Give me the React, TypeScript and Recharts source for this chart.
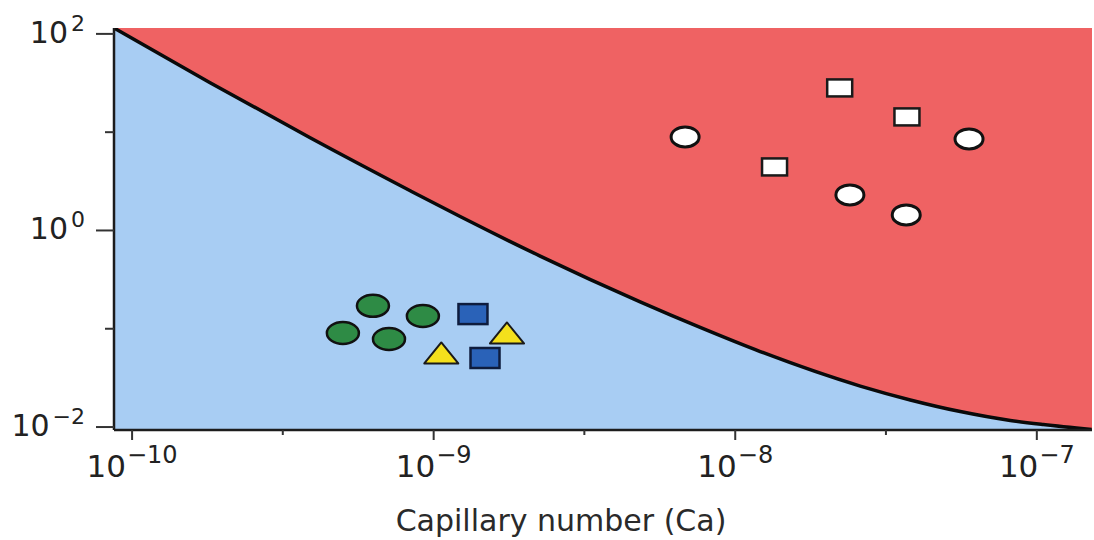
import React from 'react';
import { ComposedChart, Area, Scatter, XAxis, YAxis, CartesianGrid } from 'recharts';

// boundary between the two regimes: capillary number vs viscosity ratio
const curveCa = [8.71e-11, 1.814e-10, 3.894e-10, 8.36e-10, 1.224e-9, 2.255e-9, 4.839e-9, 7.65e-9, 1.21e-8, 2.598e-8, 3.806e-8, 5.574e-8, 8.17e-8, 1.051e-7, 1.52e-7];
const curveRatio = [114.8, 31.9, 8.77, 2.535, 1.385, 0.549, 0.1877, 0.1031, 0.0586, 0.0261, 0.01886, 0.01437, 0.01167, 0.0106, 0.00945];

// markers below the curve
const greenCa = [6.29e-10, 9.21e-10, 5.0e-10, 7.11e-10];
const greenRatio = [0.171, 0.135, 0.0906, 0.0787];
const blueCa = [1.35e-9, 1.48e-9];
const blueRatio = [0.141, 0.0504];
const yellowCa = [1.75e-9, 1.06e-9];
const yellowRatio = [0.0906, 0.0567];

// markers above the curve
const whiteSquareCa = [2.22e-8, 3.71e-8, 1.35e-8];
const whiteSquareRatio = [28.2, 14.3, 4.43];
const whiteCircleCa = [6.82e-9, 5.96e-8, 2.4e-8, 3.69e-8];
const whiteCircleRatio = [8.94, 8.53, 2.3, 1.44];

const xTicks = [1e-10, 3.16e-10, 1e-9, 3.16e-9, 1e-8, 3.16e-8, 1e-7];
const yTicks = [0.01, 0.1, 1, 10, 100];
const xDomain = [8.71e-11, 1.524e-7];
const yDomain = [0.00933, 114.8];

const zip = (xs: number[], ys: number[]) => xs.map((ca, i) => ({ ca, ratio: ys[i] }));
const curve = zip(curveCa, curveRatio);

const FONT = 'DejaVu Sans';
const INK = '#1c1c1c';

const expOf = (v: number) => {
    const l = Math.log10(v);
    const e = Math.round(l);
    return { e, whole: Math.abs(l - e) < 1e-3 };
};

const exponentText = (e: number) => (e < 0 ? `\u2212${-e}` : `${e}`);

const XTick = (props: any) => {
    const { x, y, payload } = props;
    const { e, whole } = expOf(payload.value);
    return (
        <g>
            <line x1={x} y1={y} x2={x} y2={y + (whole ? 10 : 5)} stroke="#333" strokeWidth={2} />
            {whole && (
                <text x={x} y={y + 47} textAnchor="middle" fontFamily={FONT} fontSize={31} fill="#222">
                    10<tspan dx={1} dy={-14} fontSize={24}>{exponentText(e)}</tspan>
                </text>
            )}
        </g>
    );
};

const YTick = (props: any) => {
    const { x, y, payload } = props;
    const { e } = expOf(payload.value);
    const major = e % 2 === 0;
    return (
        <g>
            <line x1={x - (major ? 18 : 9)} y1={y} x2={x} y2={y} stroke="#333" strokeWidth={2} />
            {major && (
                <text x={x - 29} y={y + 9} textAnchor="end" fontFamily={FONT} fontSize={30} fill="#222">
                    10<tspan dx={3} dy={-12} fontSize={22}>{exponentText(e)}</tspan>
                </text>
            )}
        </g>
    );
};

const xTitle = (p: any) => {
    const vb = p.viewBox;
    return (
        <text x={vb.x + vb.width / 2 - 42} y={vb.y + vb.height - 9} textAnchor="middle" fontFamily={FONT} fontSize={30} fill="#2a2a2a">
            Capillary number (Ca)
        </text>
    );
};

const ellipse = (fill: string, rx: number, ry: number, stroke: string, sw: number) => (p: any) => (
    <ellipse cx={p.cx} cy={p.cy} rx={rx} ry={ry} fill={fill} stroke={stroke} strokeWidth={sw} />
);

const box = (fill: string, w: number, h: number, stroke: string, sw: number) => (p: any) => (
    <rect x={p.cx - w / 2} y={p.cy - h / 2} width={w} height={h} fill={fill} stroke={stroke} strokeWidth={sw} />
);

const triangle = (fill: string, w: number, h: number) => (p: any) => (
    <polygon
        points={`${p.cx},${p.cy - h / 2} ${p.cx + w / 2},${p.cy + h / 2} ${p.cx - w / 2},${p.cy + h / 2}`}
        fill={fill}
        stroke="#1a1a1a"
        strokeWidth={2}
        strokeLinejoin="round"
    />
);

const App = () => {
    return (
        <div style={{ position: 'absolute', left: 0, top: 0, width: 1094, height: 540, background: '#fff' }}>
            <ComposedChart width={1094} height={540} data={curve} margin={{ top: 28, right: 2, bottom: 0, left: 0 }}>
                <CartesianGrid horizontal={false} vertical={false} fill="#ef6263" fillOpacity={1} />
                <XAxis
                    dataKey="ca"
                    type="number"
                    scale="log"
                    domain={xDomain}
                    allowDataOverflow
                    ticks={xTicks}
                    interval={0}
                    tickSize={0}
                    tickMargin={0}
                    tickLine={false}
                    tick={<XTick />}
                    axisLine={{ stroke: INK, strokeWidth: 2.5 }}
                    height={110}
                    label={xTitle}
                />
                <XAxis
                    xAxisId="top"
                    orientation="top"
                    type="number"
                    domain={[0, 1]}
                    tick={false}
                    tickLine={false}
                    height={0}
                    axisLine={{ stroke: INK, strokeWidth: 2 }}
                />
                <YAxis
                    type="number"
                    scale="log"
                    domain={yDomain}
                    allowDataOverflow
                    ticks={yTicks}
                    interval={0}
                    tickSize={0}
                    tickMargin={0}
                    tickLine={false}
                    tick={<YTick />}
                    axisLine={{ stroke: INK, strokeWidth: 2.5 }}
                    width={114}
                />
                <YAxis
                    yAxisId="right"
                    orientation="right"
                    type="number"
                    domain={[0, 1]}
                    tick={false}
                    tickLine={false}
                    width={0}
                    axisLine={{ stroke: INK, strokeWidth: 2 }}
                />
                <Area
                    type="monotone"
                    dataKey="ratio"
                    baseValue="dataMin"
                    stroke="#0a0a0a"
                    strokeWidth={3.5}
                    fill="#a8cdf3"
                    fillOpacity={1}
                    dot={false}
                    activeDot={false}
                    isAnimationActive={false}
                />
                <Scatter data={zip(greenCa, greenRatio)} dataKey="ratio" shape={ellipse('#2e8b45', 16, 11, '#111', 2.5)} isAnimationActive={false} />
                <Scatter data={zip(blueCa, blueRatio)} dataKey="ratio" shape={box('#2a62b8', 29, 20, '#0e1c3d', 2.5)} isAnimationActive={false} />
                <Scatter data={zip(yellowCa, yellowRatio)} dataKey="ratio" shape={triangle('#f4e01c', 34, 21)} isAnimationActive={false} />
                <Scatter data={zip(whiteSquareCa, whiteSquareRatio)} dataKey="ratio" shape={box('#ffffff', 25, 17, '#1a1a1a', 2.5)} isAnimationActive={false} />
                <Scatter data={zip(whiteCircleCa, whiteCircleRatio)} dataKey="ratio" shape={ellipse('#ffffff', 14, 10, '#111', 3)} isAnimationActive={false} />
            </ComposedChart>
        </div>
    );
};

export default App;
